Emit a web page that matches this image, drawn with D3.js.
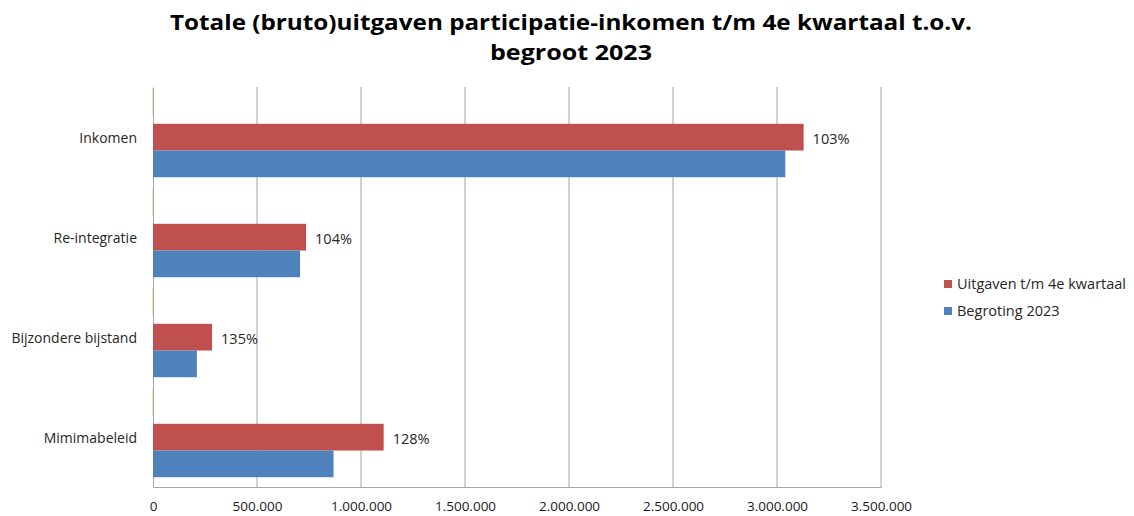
<!DOCTYPE html>
<html><head><meta charset="utf-8">
<script src="https://cdn.jsdelivr.net/npm/d3@7"></script>
<style>
html,body{margin:0;padding:0;background:#fff;}
svg{display:block;font-family:"Open Sans",sans-serif;}
</style></head>
<body>
<svg id="chart" width="1134" height="516"></svg>
<script>
const titleLines = ["Totale (bruto)uitgaven participatie-inkomen t/m 4e kwartaal t.o.v.", "begroot 2023"];
const categories = ["Inkomen", "Re-integratie", "Bijzondere bijstand", "Mimimabeleid"];
const seriesNames = ["Uitgaven t/m 4e kwartaal", "Begroting 2023"];
const uitgaven = [3128000, 736000, 284000, 1109000];
const begroting = [3040000, 707000, 211000, 868000];
const percentLabels = ["103%", "104%", "135%", "128%"];
const xTicks = [0, 500000, 1000000, 1500000, 2000000, 2500000, 3000000, 3500000];
const colors = ["#C0504D", "#4F81BD"];

(function () {
const svg = d3.select("#chart");
const mLeft = 153, mRight = 881, mTop = 87, mBottom = 487;

const x = d3.scaleLinear().domain([0, 3500000]).range([mLeft, mRight]);
const y = d3.scaleBand().domain(categories).range([mTop, mBottom])
  .paddingInner(0.466).paddingOuter(0.233).align(0.79);
const y1 = d3.scaleBand().domain(seriesNames).range([0, y.bandwidth()]);
const fmt = v => v === 0 ? "0" : d3.format(",")(v).replace(/,/g, ".");

// title
svg.append("text").attr("x", 571).attr("y", 30).attr("text-anchor", "middle")
  .attr("font-size", 22).attr("font-weight", "bold").attr("fill", "#000")
  .attr("textLength", 802).attr("lengthAdjust", "spacingAndGlyphs")
  .text(titleLines[0]);
svg.append("text").attr("x", 571).attr("y", 60).attr("text-anchor", "middle")
  .attr("font-size", 22).attr("font-weight", "bold").attr("fill", "#000")
  .attr("textLength", 162).attr("lengthAdjust", "spacingAndGlyphs")
  .text(titleLines[1]);

// gridlines
svg.append("g").selectAll("line").data(xTicks.slice(1)).join("line")
  .attr("x1", d => x(d)).attr("x2", d => x(d))
  .attr("y1", mTop).attr("y2", mBottom)
  .attr("stroke", "#a6a6a6").attr("stroke-width", 1);

// x axis
const xAxis = svg.append("g").attr("transform", `translate(0,${mBottom})`)
  .call(d3.axisBottom(x).tickValues(xTicks).tickFormat(fmt).tickSize(0).tickPadding(14));
xAxis.select(".domain").attr("stroke", "#a6a6a6");
xAxis.selectAll("text").attr("font-size", 13.5).attr("fill", "#1a1a1a")
  .attr("font-family", "'Open Sans',sans-serif");

// y axis
const yAxis = svg.append("g").attr("transform", `translate(${mLeft},0)`)
  .call(d3.axisLeft(y).tickSize(0).tickPadding(16));
yAxis.select(".domain").attr("stroke", "#a6a6a6");
yAxis.selectAll("text").attr("font-size", 14).attr("fill", "#262626")
  .attr("font-family", "'Open Sans',sans-serif")
  .attr("y", y1(seriesNames[0]) + y1.bandwidth() / 2 - y.bandwidth() / 2 + 1);

// green tick segments on the category axis
svg.append("g").selectAll("line").data(categories).join("line")
  .attr("x1", mLeft).attr("x2", mLeft)
  .attr("y1", d => y(d) - y.step() * y.paddingInner() * 0.79 * 0.95)
  .attr("y2", d => y(d) - 8)
  .attr("stroke", "#9bbb59").attr("stroke-width", 1).attr("opacity", 0.6);

// bars
const rows = categories.map((c, i) => ({ c, vals: [uitgaven[i], begroting[i]], pct: percentLabels[i] }));
const g = svg.append("g");
rows.forEach(r => {
  r.vals.forEach((v, j) => {
    g.append("rect")
      .attr("x", x(0)).attr("y", y(r.c) + y1(seriesNames[j]))
      .attr("width", x(v) - x(0)).attr("height", y1.bandwidth())
      .attr("fill", colors[j]);
  });
  g.append("text")
    .attr("x", x(r.vals[0]) + 9)
    .attr("y", y(r.c) + y1(seriesNames[0]) + y1.bandwidth() / 2 + 2)
    .attr("dy", "0.35em").attr("font-size", 14.5).attr("fill", "#262626")
    .text(r.pct);
});

// legend
const lg = svg.append("g").attr("transform", "translate(944,280)");
seriesNames.forEach((s, i) => {
  lg.append("rect").attr("x", 0).attr("y", i * 27).attr("width", 8).attr("height", 8).attr("fill", colors[i]);
  lg.append("text").attr("x", 13).attr("y", i * 27 + 4).attr("dy", "0.35em")
    .attr("font-size", 14.5).attr("fill", "#262626").text(s);
});
})();
</script>
</body></html>
